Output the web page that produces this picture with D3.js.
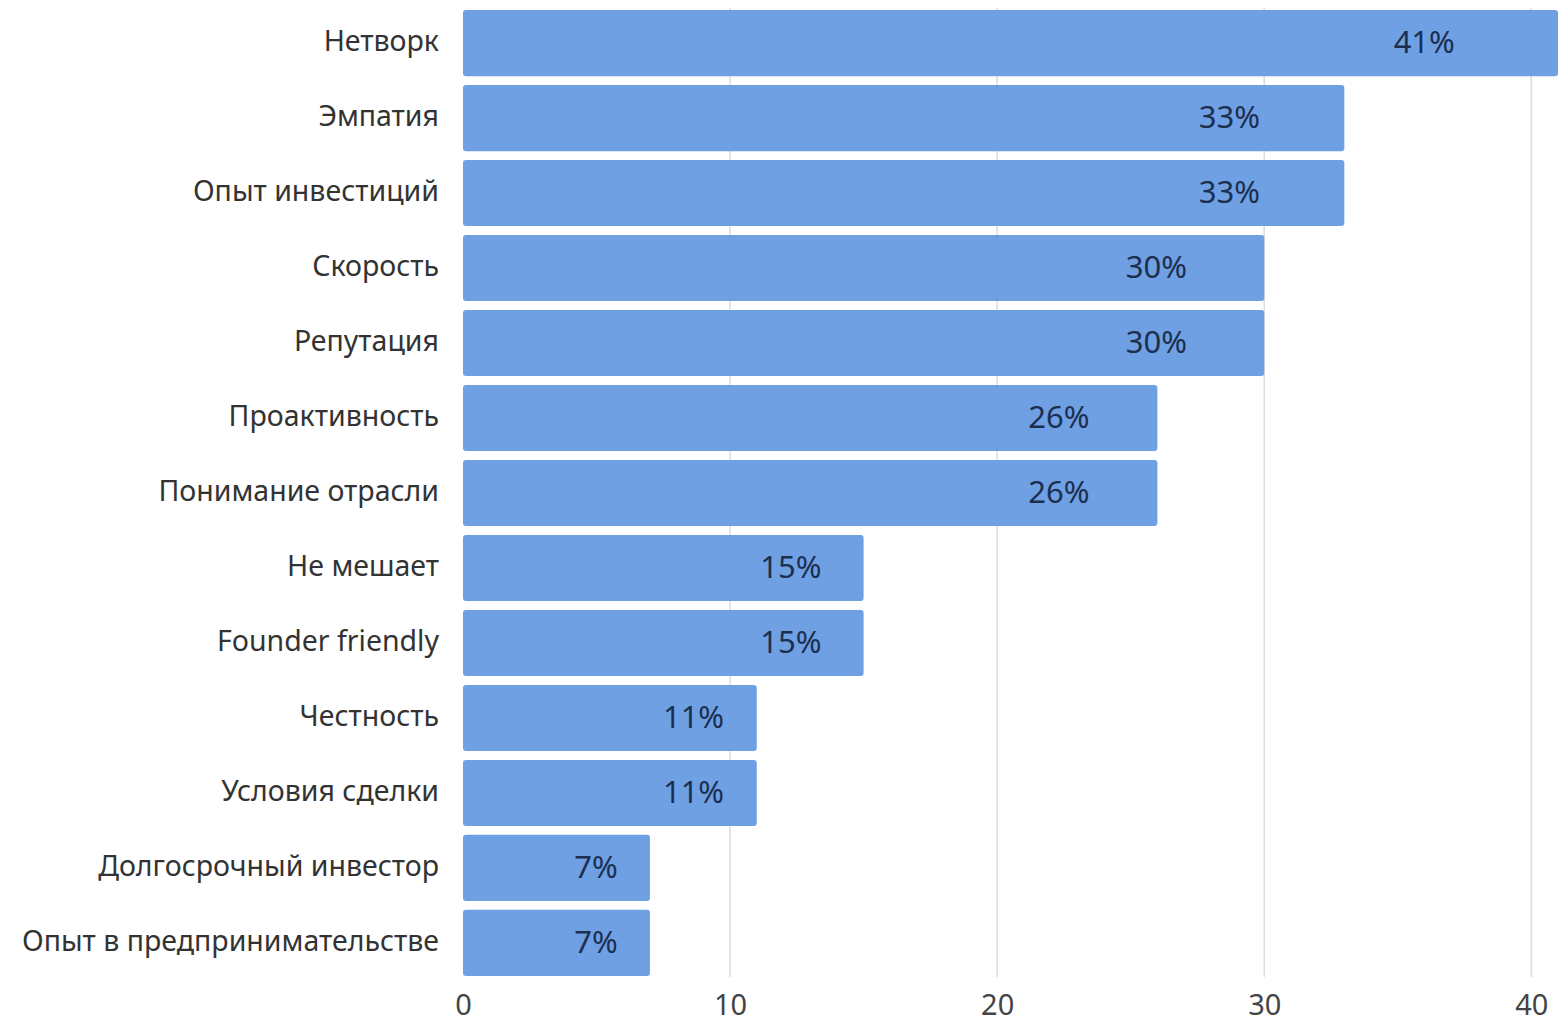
<!DOCTYPE html>
<html>
<head>
<meta charset="utf-8">
<script src="https://cdn.jsdelivr.net/npm/d3@7"></script>
<style>
  body { margin: 0; background: #fff; }
  text { font-family: "Noto Sans", "Open Sans", sans-serif; }
</style>
</head>
<body>
<div id="chart"></div>
<script>
// categories and values
var categories = ["Нетворк", "Эмпатия", "Опыт инвестиций", "Скорость", "Репутация",
  "Проактивность", "Понимание отрасли", "Не мешает", "Founder friendly",
  "Честность", "Условия сделки", "Долгосрочный инвестор", "Опыт в предпринимательстве"];
var values = [41, 33, 33, 30, 30, 26, 26, 15, 15, 11, 11, 7, 7];
var ticks = [0, 10, 20, 30, 40];

var width = 1558, height = 1022;

var svg = d3.select("#chart")
  .append("svg")
  .attr("width", width)
  .attr("height", height);

var x = d3.scaleLinear().domain([0, 41]).range([463, 1558]);
var y = d3.scaleBand().domain(categories).range([10, 976]).paddingInner(0.118).paddingOuter(0);

// vertical gridlines
svg.append("g")
  .selectAll("line")
  .data(ticks.slice(1))
  .enter()
  .append("line")
  .attr("x1", d => x(d))
  .attr("x2", d => x(d))
  .attr("y1", 8)
  .attr("y2", 977)
  .attr("stroke", "#dcdcdc")
  .attr("stroke-width", 1.5);

// bars
svg.append("g")
  .selectAll("rect")
  .data(values)
  .enter()
  .append("rect")
  .attr("x", x(0))
  .attr("y", (d, i) => y(categories[i]))
  .attr("width", d => x(d) - x(0))
  .attr("height", y.bandwidth())
  .attr("rx", 3)
  .attr("fill", "#6fa0e4");

// value labels inside bars
svg.append("g")
  .selectAll("text")
  .data(values)
  .enter()
  .append("text")
  .attr("x", d => x(d * 0.912 - 1.4))
  .attr("y", (d, i) => y(categories[i]) + y.bandwidth() / 2 - 1)
  .attr("dy", "0.35em")
  .attr("text-anchor", "middle")
  .attr("font-size", 31)
  .attr("fill", "#1d2f4f")
  .text(d => d + "%");

// category labels
svg.append("g")
  .selectAll("text")
  .data(categories)
  .enter()
  .append("text")
  .attr("x", 439)
  .attr("y", d => y(d) + y.bandwidth() / 2 - 2)
  .attr("dy", "0.35em")
  .attr("text-anchor", "end")
  .attr("font-size", 28.5)
  .attr("fill", "#333")
  .text(d => d);

// x axis labels
var xAxis = d3.axisBottom(x).tickValues(ticks).tickSize(0).tickPadding(0);
var gx = svg.append("g")
  .attr("transform", "translate(0,994)")
  .call(xAxis);
gx.select(".domain").remove();
gx.selectAll("text")
  .attr("font-size", 29)
  .attr("fill", "#444")
  .attr("font-family", "\"Noto Sans\", sans-serif");
</script>
</body>
</html>
